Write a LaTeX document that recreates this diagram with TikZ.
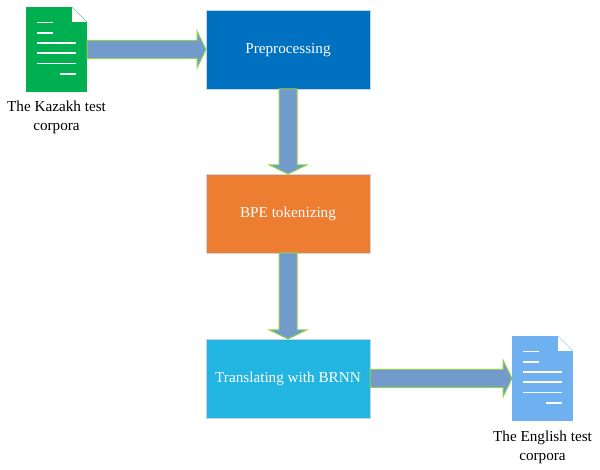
\documentclass[tikz,border=0pt]{standalone}
\usepackage{fontspec}
\setmainfont{Liberation Serif}
\usetikzlibrary{positioning,calc}
\definecolor{prepblue}{HTML}{0070C0}
\definecolor{bpeorange}{HTML}{ED7D31}
\definecolor{brnncyan}{HTML}{22B5E2}
\definecolor{docgreen}{HTML}{00B050}
\definecolor{docblue}{HTML}{6FB1F0}
\definecolor{arrowfill}{HTML}{729BCB}
\definecolor{arrowline}{HTML}{92D050}
\definecolor{stepedge}{HTML}{C8D6E4}

\begin{document}
\begin{tikzpicture}[x=1pt, y=1pt, node distance=85pt,
    stepbox/.style = {shape=rectangle, draw=stepedge, line width=0.3pt, outer sep=0pt,
                  minimum width=164pt, minimum height=79pt, text=white, text height=10pt, text depth=2pt,
                  font=\fontsize{15.2}{18}\selectfont},
    docpage/.style = {shape=rectangle, outer sep=0pt, minimum width=61pt, minimum height=85pt},
    doctext/.style = {align=center, inner sep=0pt, font=\fontsize{15.2}{19}\selectfont},
    docrule/.style = {draw=white, line width=1.1pt},
    blockarrow/.style = {draw=arrowline, fill=arrowfill, line width=1pt, to path={
                  ($(\tikztostart)!9pt!90:(\tikztotarget)$)
                  -- ($($(\tikztotarget)!9pt!(\tikztostart)$)!9pt!90:(\tikztotarget)$)
                  -- ($($(\tikztotarget)!9pt!(\tikztostart)$)!18.5pt!90:(\tikztotarget)$)
                  -- (\tikztotarget)
                  -- ($($(\tikztotarget)!9pt!(\tikztostart)$)!18.5pt!-90:(\tikztotarget)$)
                  -- ($($(\tikztotarget)!9pt!(\tikztostart)$)!9pt!-90:(\tikztotarget)$)
                  -- ($(\tikztostart)!9pt!-90:(\tikztotarget)$) -- cycle}}]
    \useasboundingbox (0,0) rectangle (600,-470);

    % the three processing steps
    \node[stepbox, fill=prepblue] (prep) at (288,-49.5) {Preprocessing};
    \node[stepbox, fill=bpeorange, below=of prep] (bpe) {BPE tokenizing};
    \node[stepbox, fill=brnncyan, below=86pt of bpe] (brnn) {Translating with BRNN};

    % input and output documents
    \node[docpage, fill=docgreen] (kazakh) at (56.5,-49.5) {};
    \node[docpage, fill=docblue, anchor=west] (english) at (512,-378.5) {};
    \node[doctext, below=9pt of kazakh] (kazakhtext) {The Kazakh test\\corpora};
    \node[doctext, below=9.5pt of english] (englishtext) {The English test\\corpora};

    % folded corner and text rules on each page
    \foreach \doc/\edge in {kazakh/docgreen, english/docblue} {
      \fill[white] ([xshift=-15pt]\doc.north east) -- ++(15,0) -- ++(0,-15) -- cycle;
      \fill[white] ([xshift=-15pt,yshift=-15pt]\doc.north east) -- ++(15,0) -- ++(-15,15) -- cycle;
      \draw[\edge!60, line width=0.5pt] ([xshift=-15pt]\doc.north east) -- ([yshift=-15pt]\doc.north east);
      \foreach \ypos/\xpos/\len in {15.5/11/16, 26/11/16, 36/11/39, 46/11/39, 56.5/11/39, 67/34/16}
        \draw[docrule] ([xshift=\xpos pt,yshift=-\ypos pt]\doc.north west) -- ++(\len,0);
    }

    % arrows between everything
    \draw[blockarrow] (kazakh.east) to (prep.west);
    \draw[blockarrow] (prep.south) to (bpe.north);
    \draw[blockarrow] (bpe.south) to (brnn.north);
    \draw[blockarrow] (brnn.east) to (english.west);
\end{tikzpicture}
\end{document}
